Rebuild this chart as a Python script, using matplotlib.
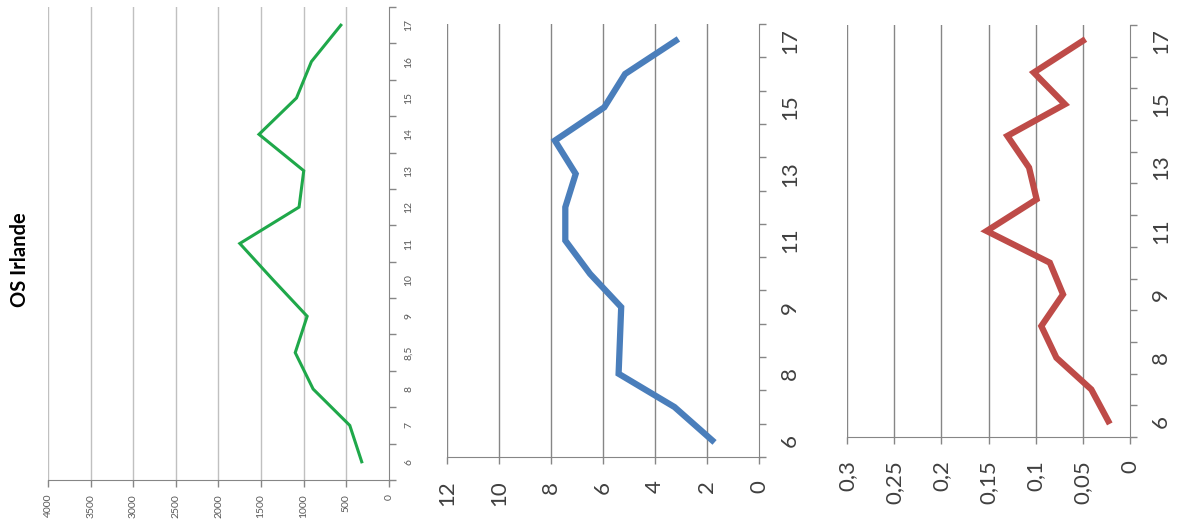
import matplotlib
matplotlib.use("Agg")
import matplotlib.pyplot as plt
import numpy as np

plt.rcParams["font.family"] = ["Lato", "DejaVu Sans"]

# categories (age)
categories = ["6", "7", "8", "8,5", "9", "10", "11", "12", "13", "14", "15", "16", "17"]

# series
os_irlande = [320, 460, 890, 1100, 960, 1360, 1750, 1055, 1000, 1525, 1085, 910, 565]
serie_bleue = [1.8, 3.25, 5.4, 5.35, 5.3, 6.5, 7.45, 7.45, 7.05, 7.85, 5.95, 5.15, 3.2]
serie_rouge = [0.023, 0.041, 0.078, 0.094, 0.071, 0.085, 0.152, 0.099, 0.107, 0.130, 0.069, 0.102, 0.050]

val_ticks_1 = [0, 500, 1000, 1500, 2000, 2500, 3000, 3500, 4000]
val_ticks_2 = [0, 2, 4, 6, 8, 10, 12]
val_ticks_3 = [0, 0.05, 0.1, 0.15, 0.2, 0.25, 0.3]
val_labels_3 = ["0", "0,05", "0,1", "0,15", "0,2", "0,25", "0,3"]

W, H = 1184, 519
fig = plt.figure(figsize=(W / 100, H / 100), dpi=100)


def panel(box, values, vticks, vlabels, color, lw, fs, gridcol, every, labcol, xpad, ypad):
    l, r, t, b = box
    ax = fig.add_axes([l / W, (H - b) / H, (r - l) / W, (b - t) / H])
    n = len(categories)
    pos = np.arange(n)
    ax.plot(values, pos, color=color, lw=lw, solid_joinstyle="miter")
    ax.set_xlim(vticks[-1], 0)
    ax.set_ylim(-0.5, n - 0.5)
    for v in vticks[1:]:
        ax.axvline(v, color=gridcol, lw=1, zorder=0)
    ax.set_xticks(vticks)
    ax.set_xticklabels(vlabels, rotation=90, fontsize=fs, color=labcol)
    ax.yaxis.tick_right()
    ax.set_yticks(pos[::every])
    ax.set_yticklabels(categories[::every], rotation=90, fontsize=fs, color=labcol,
                       va="center")
    ax.set_yticks(np.arange(n + 1) - 0.5, minor=True)
    ax.tick_params(axis="y", which="major", length=0, pad=ypad)
    ax.tick_params(axis="y", which="minor", length=5, color="#868686", width=1)
    ax.tick_params(axis="x", length=5, color="#868686", width=1, pad=xpad)
    for s in ["top", "left"]:
        ax.spines[s].set_visible(False)
    ax.spines["right"].set_color("#868686")
    ax.spines["bottom"].set_color("#868686")
    return ax


ax1 = panel((48, 389, 7, 480), os_irlande, val_ticks_1, [str(v) for v in val_ticks_1],
            "#1fa84a", 2.2, 7.5, "#c0c0c0", 1, "#595959", 5, 11)
ax2 = panel((447, 759, 24, 457), serie_bleue, val_ticks_2, [str(v) for v in val_ticks_2],
            "#4a7ebb", 4.5, 16, "#868686", 2, "#404040", 12, 15)
ax3 = panel((847, 1130, 25, 437), serie_rouge, val_ticks_3, val_labels_3,
            "#be4b48", 4.5, 16, "#868686", 2, "#404040", 12, 15)

fig.text(20 / W, 1 - 260 / H, "OS Irlande", rotation=90, fontsize=14.5, fontweight="bold",
         ha="center", va="center")

fig.savefig("out.png", dpi=100)
